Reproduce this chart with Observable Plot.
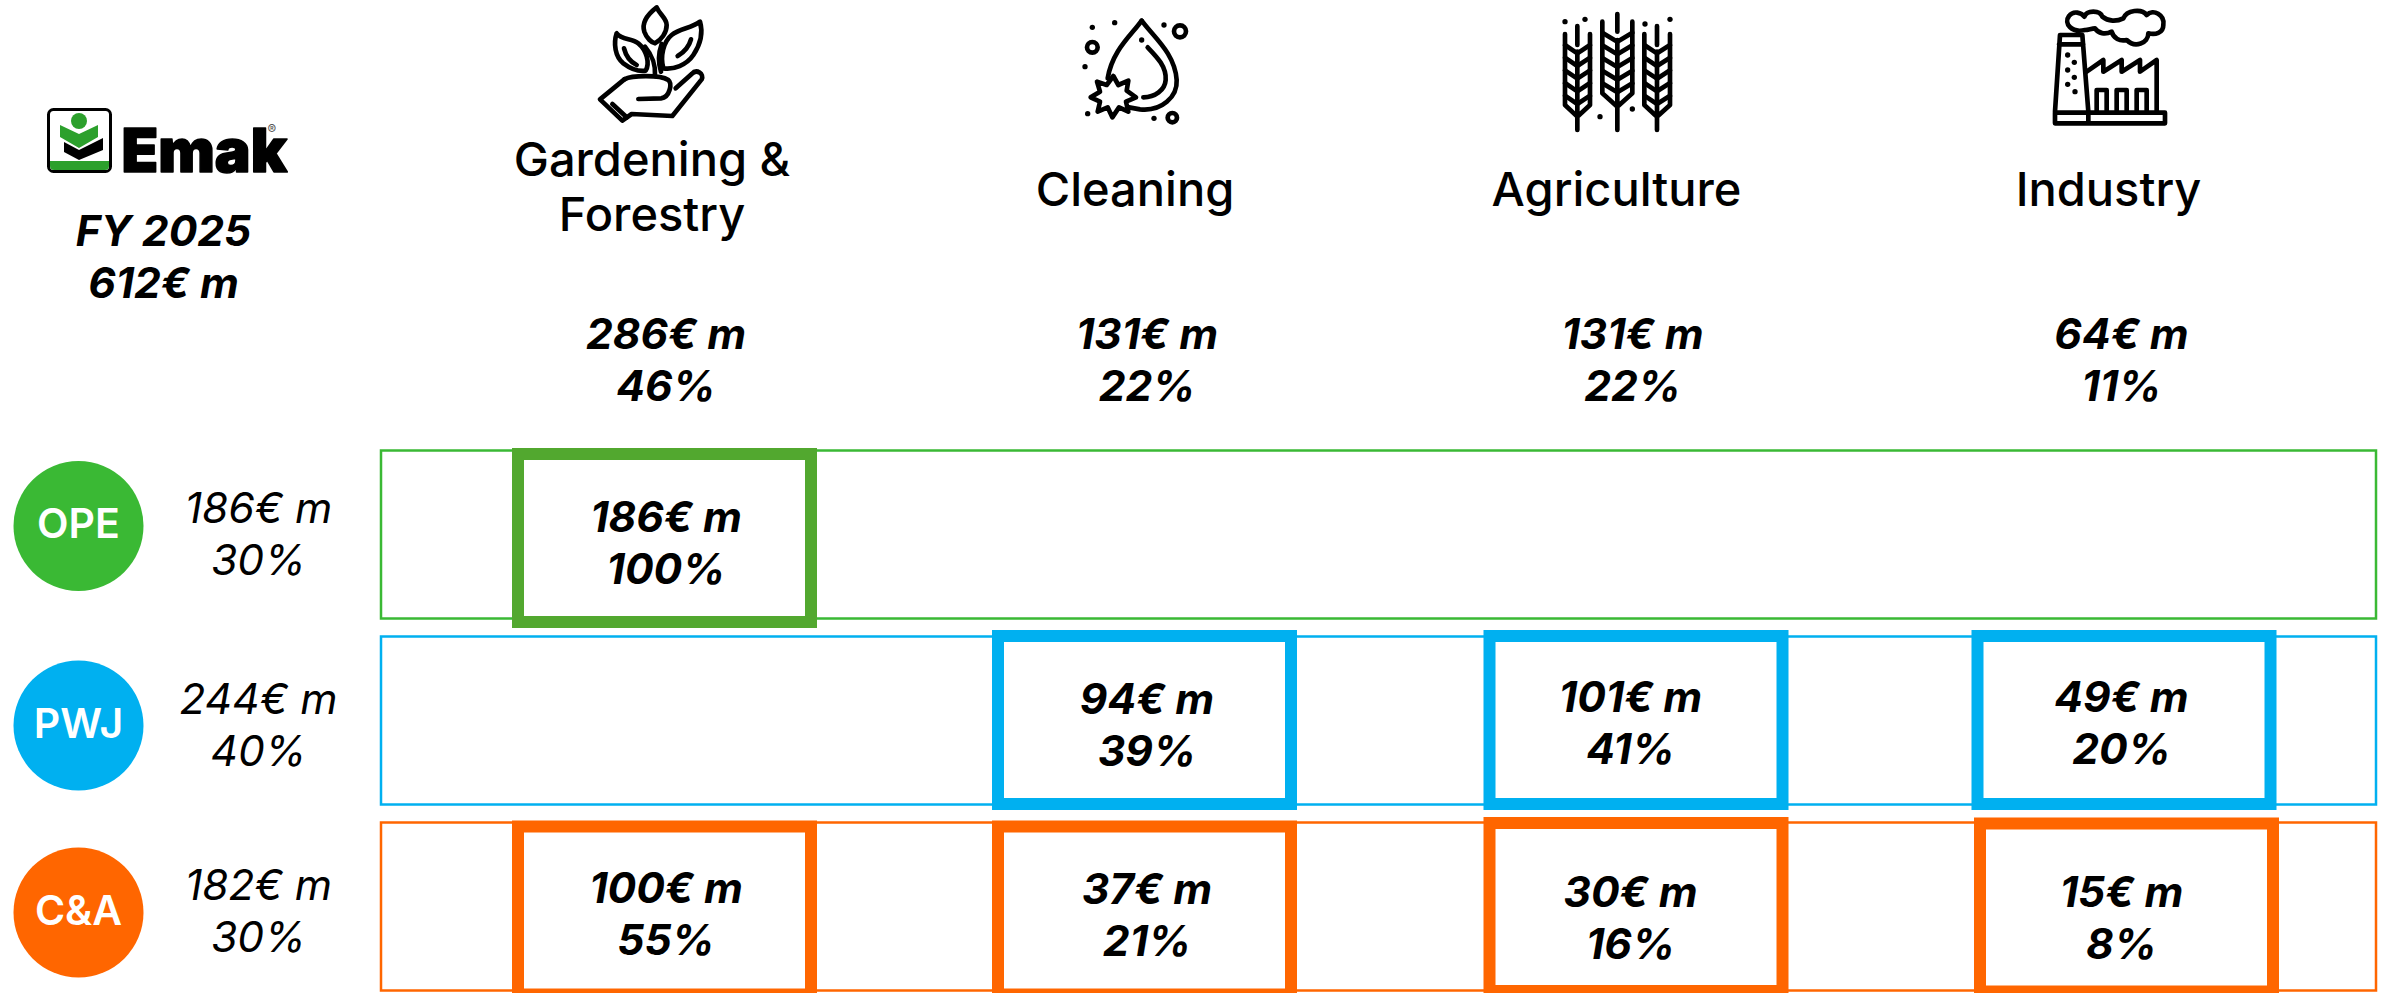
<!DOCTYPE html>
<html>
<head>
<meta charset="utf-8">
<style>
  html, body { margin: 0; padding: 0; background: #fff; overflow: hidden; }
  svg { display: block; }
</style>
<script src="https://cdn.jsdelivr.net/npm/d3@7"></script>
<script src="https://cdn.jsdelivr.net/npm/@observablehq/plot@0.6"></script>
</head>
<body>
<div id="chart"></div>
<script>
// Revenue by segment and product line, FY 2025
const companyTotal = 612;
const fiscalYear = "FY 2025";

const segments = ["Gardening &\nForestry", "Cleaning", "Agriculture", "Industry"];
const segmentValues = [286, 131, 131, 64];
const segmentShares = [46, 22, 22, 11];

const productLines = ["OPE", "PWJ", "C&A"];
const lineValues = [186, 244, 182];
const lineShares = [30, 40, 30];

// One row per product line, one slot per segment; null where the line has no sales
const opeValues = [186, null, null, null];
const opeShares = [100, null, null, null];
const pwjValues = [null, 94, 101, 49];
const pwjShares = [null, 39, 41, 20];
const caValues = [100, 37, 30, 15];
const caShares = [55, 21, 16, 8];

const rowValues = [opeValues, pwjValues, caValues];
const rowShares = [opeShares, pwjShares, caShares];

// Colours
const lineColors = ["#3ab934", "#00b0f0", "#ff6600"];
const boxColors = ["#52a82f", "#00b0f0", "#ff6600"];

// Layout: hand placement of the slide's columns, rows and labels
const badgeColumn = -2, shareColumn = -1;
const columnDomain = [badgeColumn, shareColumn, 0, 1, 2, 3];
const columnRange = [78, 258, 664.5, 1144.5, 1636, 2124];
const rowRange = [534.5, 720.5, 906.5];
const titleOffset = [-13, -10, -20, -16];
const titleTop = [136, 166, 166, 166];
const totalOffset = [1, 2, -4, -3];
const cellOffset = [1, 2, -6, -3];
const badgeOffset = [-9, 4.5, 5.5];
const lineTextOffset = [-2.5, 2, 2];
const boxOffsetY = [[3.5, 0, 0, 0], [0, -0.5, -0.5, -0.5], [4, 4, 0.5, 1]];
const boxOffsetX = [[0, 0, 0, 0], [0, 0, 0, 0], [0, 0, 0, 2.5]];
const cellTextOffsetY = [[6, 0, 0, 0], [0, 2, 0.5, 0.5], [5, 6, 9.5, 9.5]];

const sans = "Inter, 'Noto Sans', sans-serif";
const valueFont = {fontFamily: sans, fontStyle: "italic", fontWeight: 700, fontSize: 42.5, lineHeight: 1.22, fill: "#000"};
const money = (v, s) => `${v}€ m\n${s}%`;

const cells = rowValues.flatMap((vals, row) =>
  vals.map((value, col) => ({row, col, value, share: rowShares[row][col]})).filter((d) => d.value !== null)
);
const totals = segments.map((name, col) => ({name, col, value: segmentValues[col], share: segmentShares[col]}));
const lineRows = productLines.map((name, row) => ({name, row, value: lineValues[row], share: lineShares[row]}));

// Line-art pictograms, authored on a 3-unit-per-pixel grid
const icons = {
  plant: {
    origin: [-79.5, 0],
    strokes: [
      "M215 22C185 45 170 70 178 95C185 115 200 128 210 130C228 120 245 100 245 75C245 55 225 45 215 22Z",
      "M95 100C85 130 90 170 115 190C135 205 160 215 182 212C195 190 185 150 160 130C140 115 110 120 95 100Z",
      "M117 145C122 165 135 185 155 195",
      "M345 65C320 85 285 85 260 105C235 125 225 170 235 205C265 210 305 195 325 165C345 135 355 100 345 65Z",
      "M318 118C312 140 295 158 278 168",
      "M180 140C205 170 212 195 210 228M228 215C220 190 220 160 230 132",
      "M118 238C140 226 225 224 250 240C262 250 255 292 228 295L160 297",
      "M118 238L45 298L112 362L140 342L262 348L350 238C358 222 335 205 320 222L272 265",
      "M82 312L125 352"
    ],
    dots: [],
    rings: []
  },
  drop: {
    origin: [-69.5, 10],
    strokes: [
      "M200 32C170 75 112 120 98 205",
      "M200 32C235 80 300 130 305 210C308 260 260 305 195 298L162 292",
      "M218 112C245 140 275 170 272 210C270 240 240 262 205 262",
      "M115 198L130 225L160 212L155 242L183 262L153 275L160 305L132 292L112 322L98 292L68 305L75 275L47 262L75 245L66 215L95 225Z"
    ],
    dots: [[52, 52], [119, 38], [267, 45], [200, 90], [30, 170], [38, 311], [237, 325]],
    rings: [[52, 112, 16], [315, 64, 18], [292, 323, 14]]
  },
  wheat: {
    origin: [-81, 10],
    strokes: [
      "M30 72V285L67 320L105 285V72M67 48V105M67 125V360",
      "M30 105L67 130L105 105M30 143L67 168L105 143M30 181L67 206L105 181M30 219L67 244L105 219M30 257L67 282L105 257",
      "M142 35V250L187 290L232 250V35M187 12V65M187 90V360",
      "M142 68L187 95L232 68M142 106L187 133L232 106M142 144L187 171L232 144M142 182L187 209L232 182M142 220L187 247L232 220",
      "M268 72V285L306 320L345 285V72M306 48V105M306 125V360",
      "M268 105L306 130L345 105M268 143L306 168L345 143M268 181L306 206L345 181M268 219L306 244L345 219M268 257L306 282L345 257"
    ],
    dots: [[30, 35], [90, 28], [270, 42], [345, 28], [232, 297], [135, 320]],
    rings: []
  },
  factory: {
    origin: [-79, 0],
    strokes: [
      "M120 90C80 100 55 70 72 48C85 30 110 38 118 50C125 30 165 30 172 50C190 65 215 65 235 55C245 30 290 25 305 45C325 25 360 45 355 75C355 100 330 105 310 100C310 130 270 145 245 120C225 125 205 115 200 95C180 105 160 100 150 85C140 85 130 90 120 90Z",
      "M30 335L45 105H112L130 335M42 133H115",
      "M125 215L175 180V215L230 180V215L285 180V215L335 180V335",
      "M155 332V270H185V332M215 332V270H245V332M275 332V270H305V332",
      "M30 338H360V370H30ZM130 338V370"
    ],
    dots: [[68, 165], [88, 187], [68, 210], [88, 232], [68, 253], [90, 275]],
    rings: []
  }
};

// Draws one pictogram anchored to a segment's column through the x scale
function iconMark(name, col) {
  return (index, {x}) => {
    const icon = icons[name];
    const g = d3.create("svg:g")
      .attr("transform", `translate(${x(col) + icon.origin[0]},${icon.origin[1]}) scale(${1 / 3})`)
      .attr("fill", "none").attr("stroke", "#000").attr("stroke-width", 14)
      .attr("stroke-linecap", "round").attr("stroke-linejoin", "round");
    icon.strokes.forEach((d) => g.append("path").attr("d", d));
    icon.dots.forEach(([cx, cy]) => g.append("circle").attr("cx", cx).attr("cy", cy).attr("r", 8).attr("fill", "#000").attr("stroke", "none"));
    icon.rings.forEach(([cx, cy, r]) => g.append("circle").attr("cx", cx).attr("cy", cy).attr("r", r));
    return g.node();
  };
}

// Square company emblem left of the wordmark
function emblemMark() {
  const g = d3.create("svg:g").attr("transform", "translate(47,108)");
  g.append("rect").attr("x", 1.5).attr("y", 1.5).attr("width", 62).attr("height", 62).attr("rx", 5).attr("fill", "#fff").attr("stroke", "#000").attr("stroke-width", 3);
  g.append("path").attr("d", "M3 53H62V58Q62 62 58 62H7Q3 62 3 58Z").attr("fill", "#2ca02c");
  g.append("circle").attr("cx", 32).attr("cy", 13).attr("r", 8).attr("fill", "#2ca02c");
  g.append("path").attr("d", "M13 17L32 26L51 17V29L32 40L13 29Z").attr("fill", "#2ca02c");
  g.append("path").attr("d", "M17 34L32 42L56 30V42L32 52L17 44Z").attr("fill", "#000");
  return g.node();
}

const marks = [
  // Logo and company total
  emblemMark,
  Plot.text(["Emak"], {frameAnchor: "top-left", dx: 121, dy: 129, text: (d) => d, fontFamily: sans, fontWeight: 900, fontSize: 60, letterSpacing: "-5px", stroke: "#000", strokeWidth: 1.5, fill: "#000"}),
  Plot.text(["®"], {frameAnchor: "top-left", dx: 267, dy: 124, text: (d) => d, fontFamily: sans, fontSize: 13, fill: "#555"}),
  Plot.text([`${fiscalYear}\n${companyTotal}€ m`], {frameAnchor: "top-left", textAnchor: "middle", dx: 163, dy: 208.5, text: (d) => d, ...valueFont}),

  // Pictograms
  iconMark("plant", 0), iconMark("drop", 1), iconMark("wheat", 2), iconMark("factory", 3),

  // Segment titles and totals
  ...totals.map((d) => Plot.text([d], {
    x: "col", frameAnchor: "top", dx: titleOffset[d.col], dy: titleTop[d.col],
    text: "name", fontFamily: sans, fontWeight: 500, fontSize: 47, lineHeight: 1.17, fill: "#000"
  })),
  ...totals.map((d) => Plot.text([d], {
    x: "col", frameAnchor: "top", dx: totalOffset[d.col], dy: 312,
    text: (t) => money(t.value, t.share), ...valueFont
  })),

  // Full-width outline of each product line
  ...lineRows.map((d) => Plot.rect([d], {
    y1: "row", y2: "row", insetTop: -84, insetBottom: -84, insetLeft: 381, insetRight: 14,
    fill: "none", stroke: lineColors[d.row], strokeWidth: 2.5
  })),

  // Product line badge and total
  ...lineRows.map((d) => Plot.dot([d], {
    x: () => badgeColumn, y: "row", dy: badgeOffset[d.row], r: 65, fill: lineColors[d.row]
  })),
  ...lineRows.map((d) => Plot.text([d], {
    x: () => badgeColumn, y: "row", dy: badgeOffset[d.row] - 1, text: "name",
    fontFamily: sans, fontWeight: 600, fontSize: 41, fill: "#fff"
  })),
  ...lineRows.map((d) => Plot.text([d], {
    x: () => shareColumn, y: "row", dy: lineTextOffset[d.row], text: (t) => money(t.value, t.share),
    fontFamily: sans, fontStyle: "italic", fontWeight: 400, fontSize: 42.5, lineHeight: 1.22, fill: "#000"
  })),

  // Segment boxes with their sales
  ...cells.map((d) => Plot.rect([d], {
    x1: "col", x2: "col", y1: "row", y2: "row",
    insetLeft: -146.5, insetRight: -146.5, insetTop: -84, insetBottom: -84,
    dx: boxOffsetX[d.row][d.col], dy: boxOffsetY[d.row][d.col],
    fill: "#fff", stroke: boxColors[d.row], strokeWidth: 12
  })),
  ...cells.map((d) => Plot.text([d], {
    x: "col", y: "row", dx: cellOffset[d.col], dy: cellTextOffsetY[d.row][d.col],
    text: (t) => money(t.value, t.share), ...valueFont
  }))
];

const chart = Plot.plot({
  width: 2390,
  height: 993,
  margin: 0,
  x: {type: "linear", domain: columnDomain, range: columnRange, axis: null},
  y: {type: "linear", domain: [0, 1, 2], range: rowRange, axis: null},
  marks
});
document.getElementById("chart").append(chart);
</script>
</body>
</html>
